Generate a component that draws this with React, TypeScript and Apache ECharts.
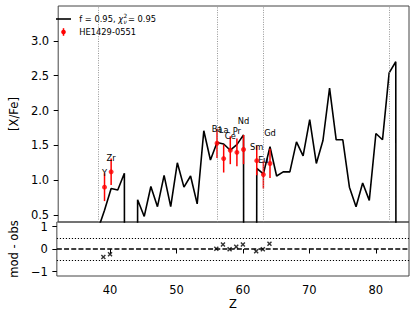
import React, { useEffect, useRef } from "react";
import * as echarts from "echarts";

// ---- data ----
const modelZ = [38, 39, 40, 41, 42, 43, 44, 45, 46, 47, 48, 49, 50, 51, 52, 53, 54, 55, 56, 57, 58, 59, 60, 61, 62, 63, 64, 65, 66, 67, 68, 69, 70, 71, 72, 73, 74, 75, 76, 77, 78, 79, 80, 81, 82, 83, 84];
const modelVals: (number | null)[] = [
  0.29, 0.57, 0.88, 0.86, 1.1, null, 0.72, 0.48, 0.91, 0.62, 1.07, 0.62, 1.25, 0.9, 1.06, 0.66, 1.71, 1.29,
  1.54, 1.52, 1.43, 1.51, 1.65, null, 1.17, 1.09, 1.48, 1.06, 1.12, 1.12, 1.55, 1.35, 1.87, 1.24, 1.57, 2.32,
  1.58, 1.58, 0.9, 0.62, 0.96, 0.71, 1.67, 1.58, 2.54, 2.7, null,
];
const obsNames = ["Y", "Zr", "Ba", "La", "Ce", "Pr", "Nd", "Sm", "Eu", "Gd"];
const obsZ = [39, 40, 56, 57, 58, 59, 60, 62, 63, 64];
const obsVals = [0.9, 1.12, 1.53, 1.31, 1.43, 1.4, 1.44, 1.28, 1.08, 1.24];
const obsErr = [0.2, 0.19, 0.21, 0.2, 0.2, 0.2, 0.21, 0.21, 0.2, 0.21];
const residuals = [-0.36, -0.23, 0.01, 0.2, -0.01, 0.1, 0.2, -0.1, -0.01, 0.23];
const xTicks = [40, 50, 60, 70, 80];
const yTicksMain = [0.5, 1.0, 1.5, 2.0, 2.5, 3.0];
const yTicksRes = [-1, 0, 1];
const refLinesZ = [38, 56, 63, 82];
const resDotted = [-0.5, 0.5];
const resDashed = [0];
const legendF = "0.95";
const legendChi = "0.95";
const starName = "HE1429-0551";

const FONT = "DejaVu Sans";
const BELOW = -100; // missing element: drawn as a drop below the axis

export default function App() {
  const ref = useRef<HTMLDivElement>(null);
  useEffect(() => {
    document.body.style.margin = "0";
    if (!ref.current) return;
    const chart = echarts.init(ref.current, undefined, { renderer: "svg" });

    const cv = document.createElement("canvas").getContext("2d")!;
    const measure = (t: string, size: number, style = "normal") => {
      cv.font = `${style} ${size}px "${FONT}"`;
      return cv.measureText(t).width;
    };

    const lineData = modelZ.map((z, i) => [z, modelVals[i] === null ? BELOW : modelVals[i]]);
    const modelAt = (z: number) => {
      const v = modelVals[modelZ.indexOf(z)];
      return v === null || v === undefined ? -Infinity : v;
    };
    const labelData = obsZ.map((z, i) => [z, Math.max(modelAt(z), obsVals[i]) + 0.2]);

    // legend layout
    const lfs = 8.3;
    const lx0 = 79.3;
    const ly1 = 19;
    const ly2 = 32;
    const t1 = `f = ${legendF}, `;
    let cx = lx0;
    const legendEls: any[] = [];
    legendEls.push({ type: "line", shape: { x1: 56, y1: ly1, x2: 71, y2: ly1 }, style: { stroke: "#000", lineWidth: 1.6 } });
    legendEls.push({ type: "text", x: cx, y: ly1, style: { text: t1, fontSize: lfs, fontFamily: FONT, fill: "#000", verticalAlign: "middle", textVerticalAlign: "middle" } });
    cx += measure(t1, lfs);
    legendEls.push({ type: "text", x: cx, y: ly1, style: { text: "χ", fontSize: lfs, fontFamily: FONT, fontStyle: "italic", fill: "#000", verticalAlign: "middle", textVerticalAlign: "middle" } });
    cx += measure("χ", lfs, "italic") + 0.3;
    const sfs = 5.8;
    legendEls.push({ type: "text", x: cx, y: ly1 - 3.2, style: { text: "2", fontSize: sfs, fontFamily: FONT, fill: "#000", verticalAlign: "middle", textVerticalAlign: "middle" } });
    legendEls.push({ type: "text", x: cx, y: ly1 + 2.6, style: { text: "ν", fontSize: sfs, fontFamily: FONT, fontStyle: "italic", fill: "#000", verticalAlign: "middle", textVerticalAlign: "middle" } });
    cx += Math.max(measure("2", sfs), measure("ν", sfs, "italic")) + 0.8;
    legendEls.push({ type: "text", x: cx, y: ly1, style: { text: `= ${legendChi}`, fontSize: lfs, fontFamily: FONT, fill: "#000", verticalAlign: "middle", textVerticalAlign: "middle" } });
    legendEls.push({ type: "line", shape: { x1: 63.5, y1: ly2 - 3.8, x2: 63.5, y2: ly2 + 3.8 }, style: { stroke: "#ff0000", lineWidth: 1.5 } });
    legendEls.push({ type: "circle", shape: { cx: 63.5, cy: ly2, r: 2.3 }, style: { fill: "#ff0000" } });
    legendEls.push({ type: "text", x: lx0, y: ly2, style: { text: starName, fontSize: lfs, fontFamily: FONT, fill: "#000", verticalAlign: "middle", textVerticalAlign: "middle" } });

    const axisFont = { fontSize: 11.5, fontFamily: FONT, color: "#000" };
    const tickStyle = { color: "#000", width: 1 };

    chart.setOption({
      animation: false,
      backgroundColor: "#fff",
      textStyle: { fontFamily: FONT },
      grid: [
        { left: 49, right: 6, top: 6, height: 216, show: true, borderColor: "#444", borderWidth: 1, backgroundColor: "transparent" },
        { left: 49, right: 6, top: 222, height: 54, show: true, borderColor: "#444", borderWidth: 1, backgroundColor: "transparent" },
      ],
      xAxis: [
        {
          gridIndex: 0, type: "value", min: 32, max: 85,
          axisLine: { show: false }, axisTick: { show: false }, axisLabel: { show: false }, splitLine: { show: false },
        },
        {
          gridIndex: 1, type: "value", min: 32, max: 85,
          axisLine: { show: false },
          axisTick: { show: true, customValues: xTicks, length: 4.5, lineStyle: tickStyle },
          axisLabel: { customValues: xTicks, margin: 8, ...axisFont },
          splitLine: { show: false },
          name: "Z", nameLocation: "middle", nameGap: 22, nameTextStyle: axisFont,
        },
      ],
      yAxis: [
        {
          gridIndex: 0, type: "value", min: 0.4, max: 3.5,
          axisLine: { show: false },
          axisTick: { show: true, customValues: yTicksMain, length: 4.5, lineStyle: tickStyle },
          axisLabel: { customValues: yTicksMain, margin: 9, formatter: (v: number) => v.toFixed(1), ...axisFont },
          splitLine: { show: false },
          name: "[X/Fe]", nameLocation: "middle", nameGap: 30, nameRotate: 90, nameTextStyle: axisFont,
        },
        {
          gridIndex: 1, type: "value", min: -1.2, max: 1.2,
          axisLine: { show: false },
          axisTick: { show: true, customValues: yTicksRes, length: 4.5, lineStyle: tickStyle },
          axisLabel: {
            customValues: yTicksRes, margin: 9,
            formatter: (v: number) => (v < 0 ? "\u2212" + Math.abs(v) : String(v)),
            ...axisFont,
          },
          splitLine: { show: false },
          name: "mod - obs", nameLocation: "middle", nameGap: 30, nameRotate: 90, nameTextStyle: axisFont,
        },
      ],
      series: [
        {
          type: "line", xAxisIndex: 0, yAxisIndex: 0, data: lineData, showSymbol: false, clip: true,
          lineStyle: { color: "#000", width: 1.6 }, z: 3,
          markLine: {
            silent: true, symbol: "none", label: { show: false }, animation: false,
            lineStyle: { color: "#888", width: 0.9, type: [1, 1.4] },
            data: refLinesZ.map((z) => ({ xAxis: z })),
          },
        },
        {
          type: "custom", xAxisIndex: 0, yAxisIndex: 0, z: 4,
          data: obsZ.map((z, i) => [z, obsVals[i] - obsErr[i], obsVals[i] + obsErr[i]]),
          encode: { x: 0, y: [1, 2] },
          renderItem: (params: any, api: any) => {
            const x = api.value(0);
            const p1 = api.coord([x, api.value(1)]);
            const p2 = api.coord([x, api.value(2)]);
            return {
              type: "line",
              shape: { x1: p1[0], y1: p1[1], x2: p2[0], y2: p2[1] },
              style: { stroke: "#ff0000", lineWidth: 1.5 },
            };
          },
        },
        {
          type: "scatter", xAxisIndex: 0, yAxisIndex: 0, z: 5,
          data: obsZ.map((z, i) => [z, obsVals[i]]),
          symbol: "circle", symbolSize: 5, itemStyle: { color: "#ff0000" },
        },
        {
          type: "custom", xAxisIndex: 0, yAxisIndex: 0, z: 6,
          data: labelData,
          encode: { x: 0, y: 1 },
          renderItem: (params: any, api: any) => {
            const p = api.coord([api.value(0), api.value(1)]);
            return {
              type: "text", x: p[0], y: p[1],
              style: {
                text: obsNames[params.dataIndex], fontSize: 8.3, fontFamily: FONT, fill: "#000",
                align: "center", verticalAlign: "middle", textAlign: "center", textVerticalAlign: "middle",
              },
            };
          },
        },
        {
          type: "scatter", xAxisIndex: 1, yAxisIndex: 1, z: 5,
          data: obsZ.map((z, i) => [z, residuals[i]]),
          symbol: "path://M0,2L2,0L5,3L8,0L10,2L7,5L10,8L8,10L5,7L2,10L0,8L3,5Z",
          symbolSize: 5, itemStyle: { color: "#000" },
          markLine: {
            silent: true, symbol: "none", label: { show: false }, animation: false,
            data: [
              ...resDashed.map((v) => ({ yAxis: v, lineStyle: { color: "#000", width: 1.5, type: [5, 2.2] } })),
              ...resDotted.map((v) => ({ yAxis: v, lineStyle: { color: "#000", width: 1.2, type: [1.2, 1.8] } })),
            ],
          },
        },
      ],
      graphic: legendEls,
    });
    return () => chart.dispose();
  }, []);
  return <div ref={ref} style={{ width: 415, height: 317 }} />;
}
